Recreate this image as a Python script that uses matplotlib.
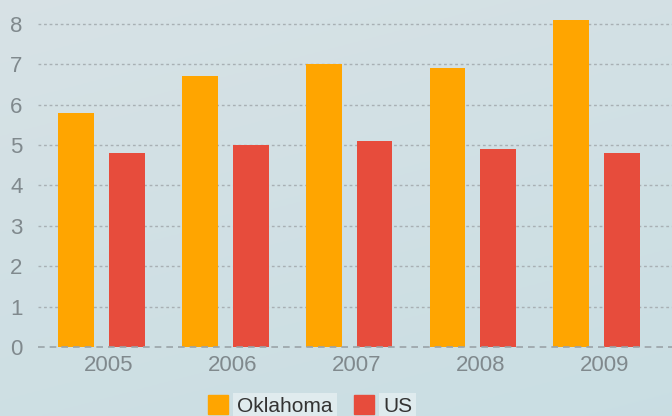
import numpy as np
import matplotlib
matplotlib.use("Agg")
import matplotlib.pyplot as plt
from matplotlib.patches import Patch

years = ["2005", "2006", "2007", "2008", "2009"]
oklahoma = [5.8, 6.7, 7.0, 6.9, 8.1]
us = [4.8, 5.0, 5.1, 4.9, 4.8]
series_names = ["Oklahoma", "US"]
yticks = [0, 1, 2, 3, 4, 5, 6, 7, 8]

ORANGE = "#ffa500"
RED = "#e74c3c"
TICK_GRAY = "#80898d"

plt.rcParams["font.family"] = ["Liberation Sans", "DejaVu Sans"]

fig = plt.figure(figsize=(6.72, 4.16), dpi=100)

# soft background gradient
bg = fig.add_axes([0, 0, 1, 1], zorder=-10)
yy, xx = np.mgrid[0:1:200j, 0:1:300j]
base_top = np.array([0.845, 0.886, 0.9])
base_bot = np.array([0.79, 0.87, 0.89])
t = (0.7 * yy + 0.3 * xx)[..., None]
img = base_top * (1 - t) + base_bot * t
bg.imshow(img, aspect="auto", extent=[0, 1, 0, 1], origin="upper")
bg.axis("off")

ax = fig.add_axes([38 / 672, 69 / 416, 634 / 672, 347 / 416])
ax.patch.set_alpha(0)

x = np.arange(len(years))
w = 0.29
off = 0.205
ax.bar(x - off, oklahoma, w, color=ORANGE, zorder=3)
ax.bar(x + off, us, w, color=RED, zorder=3)

ax.set_xlim(-0.513, 4.608)
ax.set_ylim(0, 8.59)

for v in yticks[1:]:
    ax.axhline(v, color="#a8b0b4", lw=1.0, ls=(0, (2, 2)), zorder=1)
ax.axhline(0, color="#9aa3a7", lw=1.2, ls=(0, (4, 3)), zorder=4, clip_on=False)

ax.set_yticks(yticks)
ax.set_yticklabels([str(v) for v in yticks], fontsize=16, color=TICK_GRAY)
ax.set_xticks(x + 0.06)
ax.set_xticklabels(years, fontsize=16, color=TICK_GRAY)
ax.tick_params(axis="both", length=0)
ax.tick_params(axis="y", pad=11)
ax.tick_params(axis="x", pad=6)
for s in ax.spines.values():
    s.set_visible(False)

handles = [Patch(color=ORANGE), Patch(color=RED)]
leg = fig.legend(handles, series_names, ncol=2, frameon=False, fontsize=15,
                 loc="lower left", bbox_to_anchor=(200 / 672, -8 / 416),
                 handlelength=0.95, handleheight=1.0, handletextpad=0.45,
                 columnspacing=1.0, borderaxespad=0)
for txt in leg.get_texts():
    txt.set_color("#333333")
    txt.set_bbox(dict(facecolor="white", alpha=0.4, edgecolor="none", pad=3))

fig.savefig("out.png", dpi=100)
